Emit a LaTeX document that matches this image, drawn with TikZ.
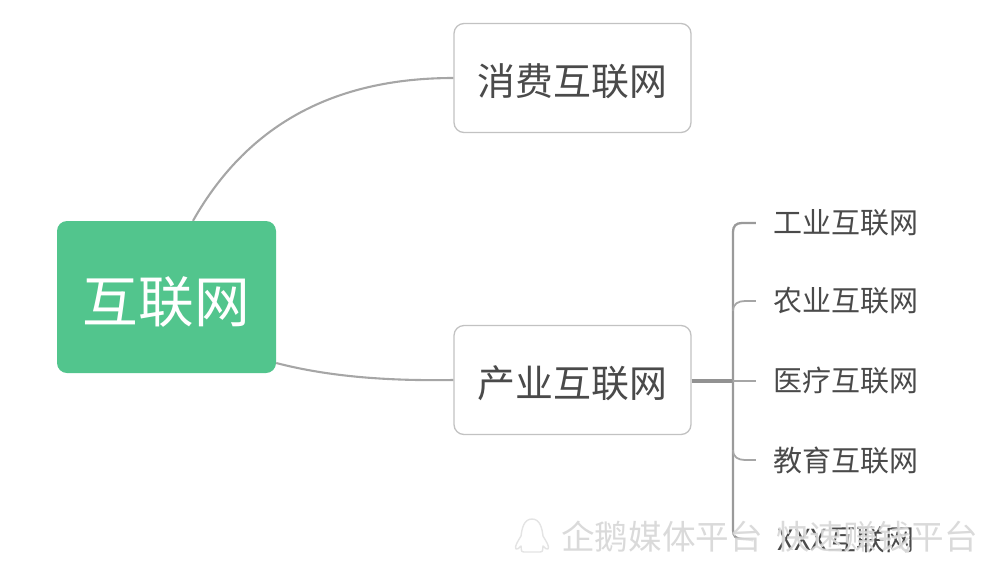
\documentclass[tikz,border=0pt]{standalone}
\usepackage{fontspec}
\setmainfont{Noto Sans CJK SC}[BoldFont={Noto Sans CJK SC}]
\definecolor{rootgreen}{HTML}{52C58D}
\definecolor{boxline}{HTML}{C2C2C2}
\definecolor{wire}{HTML}{A6A6A6}
\definecolor{buswire}{HTML}{9A9A9A}
\definecolor{inkdark}{HTML}{4A4A4A}
\definecolor{wm}{HTML}{D4D4D4}
\definecolor{wmicon}{HTML}{E4E4E4}
\tikzset{
 x=1pt,y=-1pt,
 rootbox/.style={fill=rootgreen,draw=none,rounded corners=10pt,minimum width=219pt,minimum height=152pt,inner sep=0pt,text=white,text height=55pt,text depth=5pt,font=\fontsize{55.7pt}{60pt}\selectfont},
 topicbox/.style={draw=boxline,line width=1.3pt,fill=white,rounded corners=10pt,minimum width=237pt,minimum height=109pt,inner sep=0pt,text=inkdark,text height=40pt,text depth=5pt,font=\fontsize{37.9pt}{42pt}\selectfont},
 leaflabel/.style={inner sep=0pt,text=inkdark,font=\fontsize{29pt}{32pt}\selectfont,anchor=center},
 wmlabel/.style={inner sep=0pt,text=wm,font=\fontsize{33.6pt}{36pt}\selectfont,anchor=center,opacity=.85},
 wmshadow/.style={inner sep=0pt,text=white,font=\fontsize{33.6pt}{36pt}\selectfont,anchor=center,opacity=.8},
 branch/.style={draw=wire,line width=2.1pt},
 leafwire/.style={draw=buswire,line width=2.3pt},
 buswide/.style={draw=buswire!95!black,line width=3.2pt},
 stubwire/.style={draw=wire,line width=1.8pt},
}
\begin{document}
\begin{tikzpicture}
\useasboundingbox (0,0) rectangle (1000,571);
\node[rootbox] (root) at (166.5,297) {互联网};
\node[topicbox] (t1) at (572.5,78) {消费互联网};
\node[topicbox] (t2) at (572.5,380) {产业互联网};
\node[leaflabel] (l1) at (845.5,223) {工业互联网};
\node[leaflabel] (l2) at (845.5,301) {农业互联网};
\node[leaflabel] (l3) at (845.5,381) {医疗互联网};
\node[leaflabel] (l4) at (845.5,460) {教育互联网};
\node[leaflabel] (l5) at (846,540) {XXX互联网};
\coordinate (s1) at ([xshift=26.5pt]root.north);
\coordinate (s2) at ([yshift=-66pt]root.east);
\draw[branch] (s1) .. controls (250,120) and (340,78) .. (t1.west);
\draw[branch] (s2) .. controls (330,377) and (390,381) .. (t2.west);
\coordinate (bus) at (733,381);
\coordinate (e1) at ([xshift=-17pt]l1.west);
\coordinate (e2) at ([xshift=-17pt]l2.west);
\coordinate (e3) at ([xshift=-17pt]l3.west);
\coordinate (e4) at ([xshift=-17pt]l4.west);
\coordinate (e5) at ([xshift=-24pt]l5.west);
\draw[buswide] (t2.east |- bus) -- (bus);
\draw[leafwire] (e1) -- (742,223) .. controls (736,223) and (733,226) .. (733,232) -- (733,530) .. controls (733,536) and (736,539) .. (742,539) -- (e5);
\draw[stubwire] (e2) -- (745,301) .. controls (738,301) and (733,304) .. (733,311);
\draw[stubwire] (bus) -- (e3);
\draw[stubwire] (e4) -- (745,460) .. controls (738,460) and (733,457) .. (733,450);
% watermark, laid over the drawing
\node[wmshadow] (wa2) at (663,538) {企鹅媒体平台};
\node[wmshadow] (wb2) at (878,538) {快速赚钱平台};
\node[wmlabel] (wa) at (662,537) {企鹅媒体平台};
\node[wmlabel] (wb) at (877,537) {快速赚钱平台};
\draw[draw=wmicon,fill=white,line width=1.4pt,line join=round] (532,519) .. controls (524,519) and (522,528) .. (521,536) .. controls (518,541) and (514,547) .. (516,549) .. controls (517,550) and (519,548) .. (521,546) .. controls (522,549) and (520,552) .. (524,552) -- (540,552) .. controls (544,552) and (542,549) .. (543,546) .. controls (545,548) and (547,550) .. (548,549) .. controls (550,547) and (546,541) .. (543,536) .. controls (542,528) and (540,519) .. (532,519) -- cycle;
\end{tikzpicture}
\end{document}
